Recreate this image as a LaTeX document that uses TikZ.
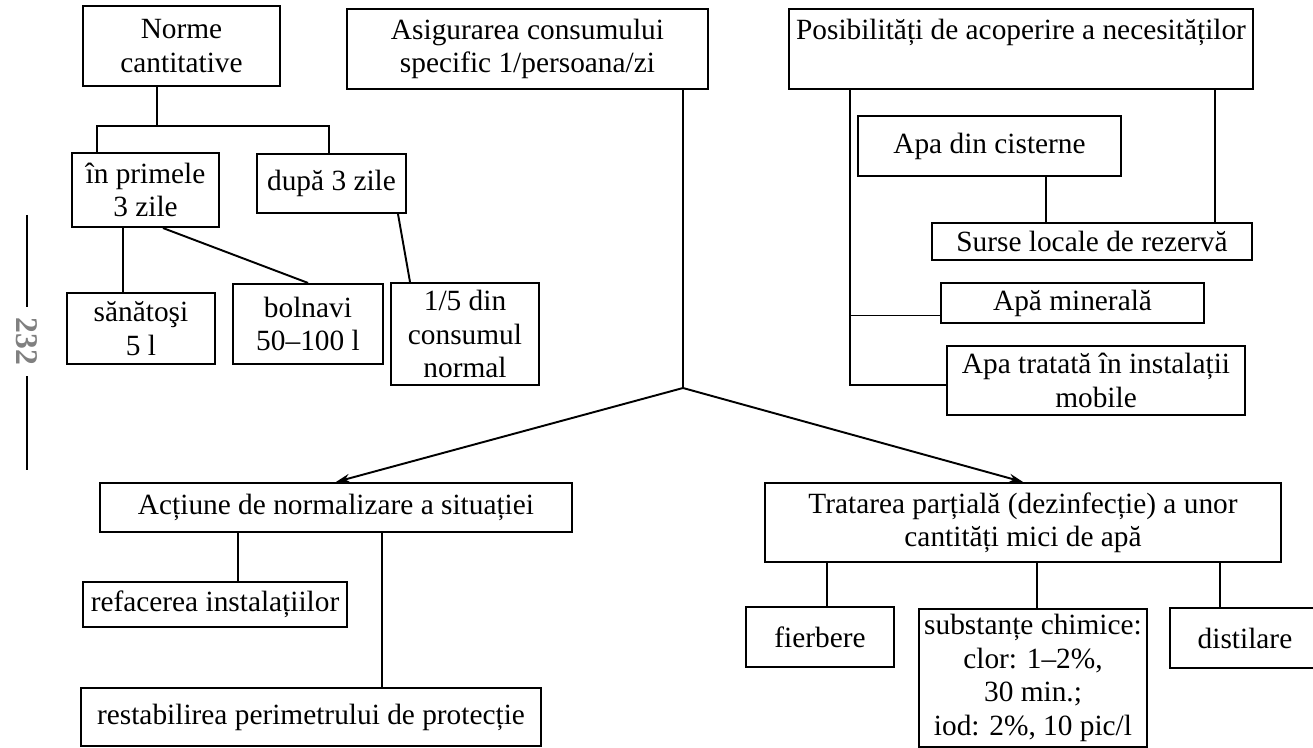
\documentclass[tikz,border=0pt]{standalone}
\usepackage{fontspec}
\setmainfont{Liberation Serif}
\usepackage{tikz}
\usetikzlibrary{arrows.meta}

\tikzset{box/.style={draw, align=center, inner sep=0pt, line width=1.2pt}}

\begin{document}
\begin{tikzpicture}[>={Stealth[length=8pt, width=5pt]}, line width=1.1pt, font=\fontsize{16.7}{19}\selectfont]

    \useasboundingbox (0, 0) rectangle (26.26, 14.96);

    \node [box, minimum width=3.94cm, minimum height=1.6cm] (norme) at (3.63, 14.04) {Norme\\cantitative};
    \node [box, minimum width=7.22cm, minimum height=1.6cm] (asig) at (10.55, 13.98) {Asigurarea consumului\\specific 1/persoana/zi};
    \node [box, minimum width=9.28cm, text height=0.62cm, text depth=0.98cm] (posib) at (20.42, 13.98) {Posibilități de acoperire a necesităților};
    \node [box, minimum width=2.94cm, minimum height=1.48cm] (inprim) at (2.91, 11.16) {în primele\\3 zile};
    \node [box, minimum width=2.98cm, minimum height=1.18cm] (dupa) at (6.63, 11.29) {după 3 zile};
    \node [box, minimum width=2.96cm, minimum height=1.42cm] (sanat) at (2.82, 8.39) {sănătoşi\\5 l};
    \node [box, minimum width=3.0cm, minimum height=1.6cm] (bolnav) at (6.16, 8.48) {bolnavi\\50–100 l};
    \node [box, minimum width=2.96cm, minimum height=2.04cm] (cinci) at (9.30, 8.28) {1/5 din\\consumul\\normal};
    \node [box, minimum width=5.26cm, minimum height=1.2cm] (cistern) at (19.79, 12.04) {Apa din cisterne};
    \node [box, minimum width=6.4cm, minimum height=0.74cm] (surse) at (21.84, 10.13) {Surse locale de rezervă};
    \node [box, minimum width=5.26cm, minimum height=0.8cm] (miner) at (21.45, 8.90) {Apă minerală};
    \node [box, minimum width=5.96cm, minimum height=1.38cm] (tratmob) at (21.92, 7.35) {Apa tratată în instalații\\mobile};
    \node [box, minimum width=9.44cm, minimum height=0.98cm] (actiune) at (6.72, 4.81) {Acțiune de normalizare a situației};
    \node [box, minimum width=5.28cm, minimum height=0.9cm] (refac) at (4.30, 2.87) {refacerea instalațiilor};
    \node [box, minimum width=9.2cm, minimum height=1.16cm] (restab) at (6.22, 0.62) {restabilirea perimetrului de protecție};
    \node [box, minimum width=10.32cm, minimum height=1.58cm] (tratare) at (20.46, 4.51) {Tratarea parțială (dezinfecție) a unor\\cantități mici de apă};
    \node [box, minimum width=2.96cm, minimum height=1.2cm] (fierb) at (16.40, 2.22) {fierbere};
    \node [box, minimum width=4.56cm, minimum height=2.76cm] (subst) at (20.66, 1.40) {substanțe chimice:\\clor: 1–2\%,\\30 min.;\\iod: 2\%, 10 pic/l};
    \node [box, minimum width=3.0cm, minimum height=1.2cm] (distil) at (24.90, 2.20) {distilare};

    \coordinate (n0) at (3.14, 12.44);
    \coordinate (n1) at (1.94, 12.44);
    \coordinate (n2) at (6.58, 12.44);
    \coordinate (s0) at (2.46, 9.5);
    \coordinate (br) at (13.66, 7.2);
    \coordinate (p0) at (17.0, 8.65);
    \coordinate (p3) at (17.0, 7.26);
    \coordinate (p1) at (24.3, 11);
    \coordinate (p2) at (20.92, 11);
    \coordinate (a1) at (4.76, 3.8);
    \coordinate (a2) at (7.64, 3.8);
    \coordinate (t1) at (16.54, 3.3);
    \coordinate (t2) at (20.74, 3.3);
    \coordinate (t3) at (24.4, 3.3);

    \draw (norme.south -| n0) to (n0);
    \draw (inprim.north -| n1) to (n1) to (n2) to (dupa.north -| n2);
    \draw (inprim.south -| s0) to (sanat.north -| s0);
    \draw ([xshift=0.35cm]inprim.south) to (bolnav.north);
    \draw ([xshift=1.33cm]dupa.south) to ([xshift=-1.1cm]cinci.north);

    \draw (asig.south -| br) to (br);
    \draw [->] (br) to (actiune.north);
    \draw [->] (br) to (tratare.north);

    \draw (posib.south -| p3) to (p3) to (tratmob.west |- p3);
    \draw (p0) to (miner.west |- p0);
    \draw (posib.south -| p1) to (surse.north -| p1);
    \draw (cistern.south -| p2) to (surse.north -| p2);

    \draw (actiune.south -| a1) to (refac.north -| a1);
    \draw (actiune.south -| a2) to (restab.north -| a2);

    \draw (tratare.south -| t1) to (fierb.north -| t1);
    \draw (tratare.south -| t2) to (subst.north -| t2);
    \draw (tratare.south -| t3) to (distil.north -| t3);

    \node [rotate=-90, text=gray, inner sep=0.2cm, font=\bfseries\fontsize{18}{18}\selectfont] (pag) at (0.54, 8.13) {232};
    \coordinate (m1) at (0.54, 10.66);
    \coordinate (m2) at (0.54, 5.56);
    \draw [line width=1.4pt] (m1) to (pag);
    \draw [line width=1.4pt] (pag) to (m2);

\end{tikzpicture}
\end{document}
